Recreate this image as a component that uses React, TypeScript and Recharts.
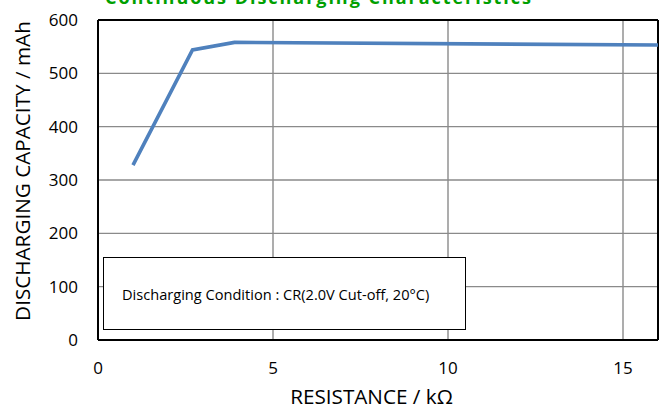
import { LineChart, Line, XAxis, YAxis, CartesianGrid, ReferenceLine } from 'recharts';

// resistance (kΩ) vs discharging capacity (mAh)
const resistance = [1, 2.7, 3.9, 16];
const capacity = [328, 544, 558, 553];

const xTicks = [0, 5, 10, 15];
const yTicks = [0, 100, 200, 300, 400, 500, 600];

const title = 'Continuous Discharging Characteristics';
const xLabel = 'RESISTANCE / kΩ';
const yLabel = 'DISCHARGING CAPACITY / mAh';
const note = 'Discharging Condition : CR(2.0V Cut-off, 20°C)';

const FONT = '"Open Sans", "Noto Sans", sans-serif';

const data = resistance.map((r, i) => ({ r, cap: capacity[i] }));

const YAxisTitle = ({ viewBox }: any) => {
    const x = viewBox.x + 30;
    const y = 171;
    return (
        <text x={x} y={y} transform={`rotate(-90, ${x}, ${y})`} textAnchor="middle"
            fontFamily={FONT} fontSize={20.7} fill="#000">
            {yLabel}
        </text>
    );
};

const XAxisTitle = ({ viewBox }: any) => (
    <text x={371.5} y={viewBox.y + 64} textAnchor="middle" fontFamily={FONT} fontSize={20.7} fill="#000">
        {xLabel}
    </text>
);

export default function App() {
    return (
        <div style={{ position: 'absolute', left: 0, top: 0, width: 659, height: 408, background: '#fff' }}>
            <LineChart width={659} height={408} data={data} margin={{ top: 20, right: 1, left: 0, bottom: 0 }}>
                <CartesianGrid stroke="#8a8a8a" strokeWidth={1.4}
                    horizontalValues={[100, 200, 300, 400, 500]} verticalValues={[5, 10, 15]} />
                <XAxis dataKey="r" type="number" domain={[0, 16]} ticks={xTicks} height={68}
                    axisLine={{ stroke: '#000', strokeWidth: 2 }} tickLine={false} tickSize={0} tickMargin={22}
                    tick={{ fill: '#000', fontSize: 17, fontFamily: FONT }}
                    label={<XAxisTitle />} />
                <YAxis type="number" domain={[0, 600]} ticks={yTicks} width={98}
                    axisLine={{ stroke: '#000', strokeWidth: 2 }} tickLine={false} tickSize={0} tickMargin={20}
                    tick={{ fill: '#000', fontSize: 17, fontFamily: FONT }}
                    label={<YAxisTitle />} />
                <ReferenceLine y={600} stroke="#000" strokeWidth={2} />
                <ReferenceLine x={16} stroke="#000" strokeWidth={2} />
                <Line type="linear" dataKey="cap" stroke="#4f81bd" strokeWidth={3.6} dot={false}
                    isAnimationActive={false} />
            </LineChart>
            <svg width={659} height={20} style={{ position: 'absolute', left: 0, top: 0 }}>
                <text x={318} y={4} textAnchor="middle" fontFamily={FONT} fontWeight={700} fontSize={18}
                    fill="#00a000" textLength={426}>
                    {title}
                </text>
            </svg>
            <div style={{
                position: 'absolute', left: 103, top: 257, width: 363, height: 73, boxSizing: 'border-box',
                border: '1.5px solid #000', background: '#fff', display: 'flex', alignItems: 'center',
                paddingLeft: 18, fontFamily: FONT, fontSize: 14.6, color: '#000', whiteSpace: 'nowrap'
            }}>
                {note}
            </div>
        </div>
    );
}
